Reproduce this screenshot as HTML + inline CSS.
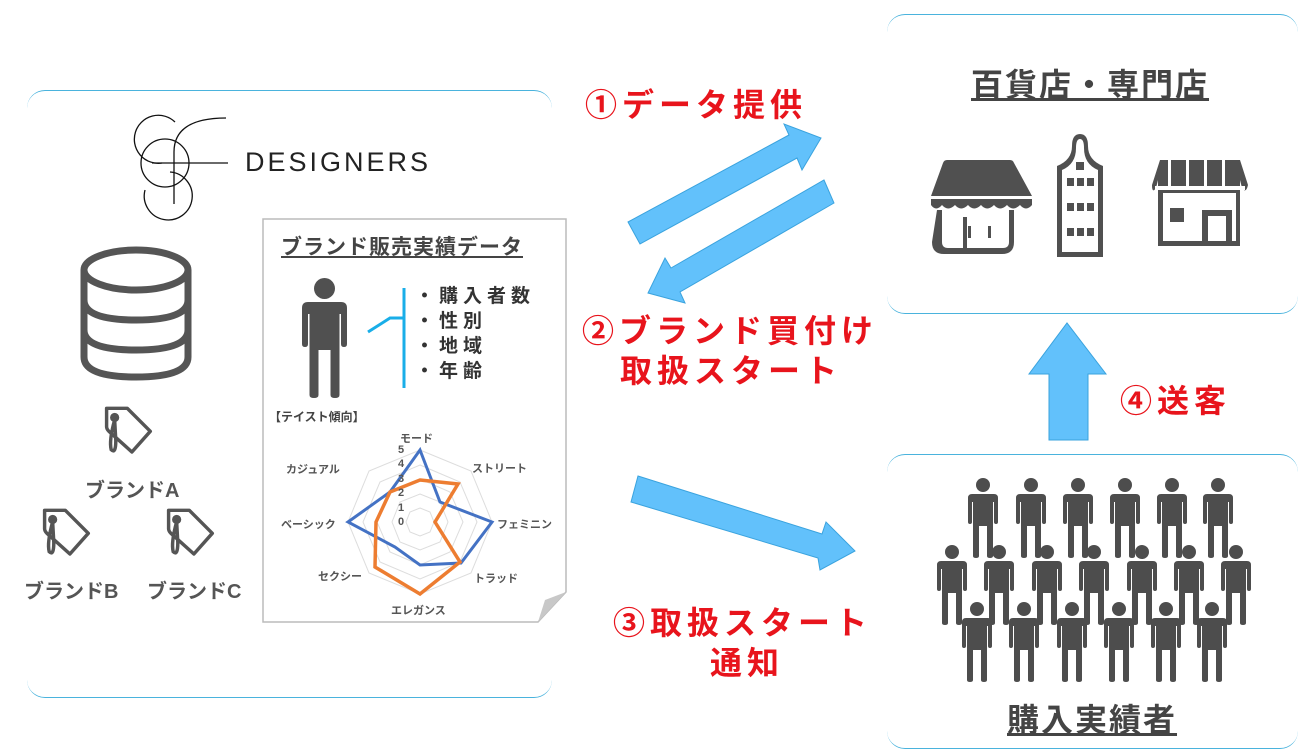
<!DOCTYPE html>
<html><head><meta charset="utf-8"><style>
html,body{margin:0;padding:0;background:#fff;}
body{width:1315px;height:755px;position:relative;overflow:hidden;font-family:"Liberation Sans","Noto Sans CJK JP",sans-serif;}
.box{position:absolute;border-top:1.5px solid #4ab3dd;border-bottom:1.5px solid #4ab3dd;border-radius:18px;box-sizing:border-box;}
.t{position:absolute;white-space:nowrap;}
.red{color:#e8141c;font-weight:bold;font-size:32px;letter-spacing:5px;}
</style></head><body>
<div class="box" style="left:27px;top:90px;width:525px;height:608px"></div>
<div class="box" style="left:887px;top:14px;width:411px;height:300px"></div>
<div class="box" style="left:887px;top:454px;width:411px;height:295px"></div>

<svg width="1315" height="755" style="position:absolute;left:0;top:0">
<defs>
<g id="p"><circle cx="15" cy="7" r="7"/><path d="M4 16 H26 Q30 16 30 20 V44 Q30 46 28 46 Q26 46 26 44 V24 H25 V78 Q25 80 22 80 Q19 80 19 78 V48 H11 V78 Q11 80 8 80 Q5 80 5 78 V24 H4 V44 Q4 46 2 46 Q0 46 0 44 V20 Q0 16 4 16Z"/></g>
<g id="tag" fill="none" stroke="#555" stroke-width="3"><path d="M4 2 H22 L42 22 L26 40 L6 22 Q4 20 4 18Z" stroke-linejoin="round"/><circle cx="11" cy="10" r="2.5" fill="#555"/><path d="M11 12 Q6 30 8 38 Q12 42 12 30 L11 12"/></g>
</defs>
<!-- logo -->
<g fill="none" stroke="#111" stroke-width="1.3">
<path d="M175 122 A24 24 0 1 0 162 163"/><circle cx="165" cy="163" r="24"/><path d="M145 190 A24 24 0 1 0 170 172"/>
<path d="M174 204 V152 Q174 118 226 118"/><line x1="152" y1="163" x2="228" y2="163"/>
</g>
<text x="245" y="171" font-family="Liberation Sans" font-size="27" letter-spacing="3" fill="#222">DESIGNERS</text>
<!-- database -->
<g fill="none" stroke="#555" stroke-width="7">
<ellipse cx="136" cy="270" rx="52" ry="20"/>
<path d="M84 270 V357 Q84 377 136 377 Q188 377 188 357 V270"/>
<path d="M84 300 Q84 320 136 320 Q188 320 188 300"/>
<path d="M84 330 Q84 350 136 350 Q188 350 188 330"/>
</g>
<g transform="translate(102,406) scale(1.15)"><use href="#tag"/></g>
<g transform="translate(40,508) scale(1.15)"><use href="#tag"/></g>
<g transform="translate(164,508) scale(1.15)"><use href="#tag"/></g>
<!-- stores -->
<g fill="#505050" fill-rule="evenodd">
<path d="M947 160 H1010 Q1013 160 1014 163 L1032 196 H931 L943 163 Q944 160 947 160Z"/>
<path d="M931 199 H1032 V205 Q1026 212 1020 205 Q1013 212 1007 205 Q1000 212 994 205 Q987 212 981 205 Q974 212 968 205 Q961 212 955 205 Q948 212 942 205 Q936 212 931 205Z"/>
<path d="M937 210 h5 v32 q0 6 6 6 h15 v-31 h4 v31 h36 q6 0 6 -6 v-32 h5 v32 q0 12 -12 12 h-58 q-12 0 -12 -12z"/>
<rect x="968" y="226" width="3" height="12"/><rect x="988" y="226" width="3" height="12"/>
<path d="M1057 257 V166 Q1072 160 1072 146 Q1072 134 1080 134 Q1088 134 1088 146 Q1088 160 1103 166 V257Z M1062 252 H1098 V170 Q1084 164 1084 148 Q1084 139 1080 139 Q1076 139 1076 148 Q1076 164 1062 170Z"/>
<rect x="1076" y="162" width="8" height="8"/>
<rect x="1067" y="178" width="7" height="8"/><rect x="1077" y="178" width="7" height="8"/><rect x="1087" y="178" width="7" height="8"/>
<rect x="1067" y="203" width="7" height="8"/><rect x="1077" y="203" width="7" height="8"/><rect x="1087" y="203" width="7" height="8"/>
<rect x="1067" y="228" width="7" height="8"/><rect x="1077" y="228" width="7" height="8"/><rect x="1087" y="228" width="7" height="8"/>
<path d="M1160 160 H1240 L1248 185 Q1246 194 1242 188 L1240 180 V246 H1158 V180 L1156 188 Q1152 194 1152 185Z M1163 193 V241 H1236 V193Z"/>
<rect x="1170" y="208" width="14" height="14"/>
<path d="M1202 210 H1232 V243 H1226 V216 H1208 V243 H1202Z"/>
</g>
<g fill="#fff"><rect x="1168" y="160" width="3" height="26"/><rect x="1186" y="160" width="3" height="26"/><rect x="1204" y="160" width="3" height="26"/><rect x="1222" y="160" width="3" height="26"/><rect x="1155" y="186" width="90" height="4"/></g>
<!-- arrows -->
<g fill="#62c1fb" stroke="#3aa3de" stroke-width="1">
<polygon points="628,222 789,135 784,124 821,138 802,170 797,158 640,244"/>
<polygon points="834,203 680,292 685,303 648,293 665,258 671,268 824,180"/>
<polygon points="638,476 822,534 826,522 855,551 820,570 818,558 631,502"/>
<polygon points="1049,440 1088,440 1088,374 1106,374 1067,323 1029,374 1049,374"/>
</g>
<!-- people -->
<g fill="#4d4d4d">
<use href="#p" x="968" y="478"/><use href="#p" x="1016" y="478"/><use href="#p" x="1063" y="478"/><use href="#p" x="1110" y="478"/><use href="#p" x="1157" y="478"/><use href="#p" x="1203" y="478"/>
<use href="#p" x="937" y="545"/><use href="#p" x="984" y="545"/><use href="#p" x="1032" y="545"/><use href="#p" x="1079" y="545"/><use href="#p" x="1127" y="545"/><use href="#p" x="1174" y="545"/><use href="#p" x="1221" y="545"/>
<use href="#p" x="962" y="602"/><use href="#p" x="1009" y="602"/><use href="#p" x="1057" y="602"/><use href="#p" x="1104" y="602"/><use href="#p" x="1151" y="602"/><use href="#p" x="1197" y="602"/>
</g>
<!-- document -->
<path d="M263 219 H566 V592 L538 622 H263Z" fill="#fff" stroke="#bbb" stroke-width="1.5"/>
<path d="M538 622 L545 600 L566 592Z" fill="#c8c8c8"/>
<g transform="translate(302,278) scale(1.5)" fill="#505050"><use href="#p"/></g>
<g stroke="#19aee8" stroke-width="3" fill="none"><line x1="404" y1="288" x2="404" y2="388"/><path d="M368 332 L390 318 H404"/></g>
<!-- radar -->
<g transform="translate(420,522)" fill="none">
<g stroke="#ddd" stroke-width="1">
<polygon points="0,-14 10,-10 14,0 10,10 0,14 -10,10 -14,0 -10,-10"/>
<polygon points="0,-28 20,-20 28,0 20,20 0,28 -20,20 -28,0 -20,-20"/>
<polygon points="0,-43 30,-30 43,0 30,30 0,43 -30,30 -43,0 -30,-30"/>
<polygon points="0,-57 40,-40 57,0 40,40 0,57 -40,40 -57,0 -40,-40"/>
<polygon points="0,-72 51,-51 72,0 51,51 0,72 -51,51 -72,0 -51,-51"/>
</g>
<polygon points="0,-72 20,-20 72,0 41,41 0,43 -25,25 -72,0 -30,-30" stroke="#4472c4" stroke-width="3"/>
<polygon points="0,-42 38,-38 15,0 40,40 0,72 -45,45 -44,0 -30,-30" stroke="#ed7d31" stroke-width="3.5"/>
</g>
</svg>

<div class="t" style="left:281px;top:231px;font-size:21px;font-weight:bold;color:#444;text-decoration:underline;letter-spacing:1px">ブランド販売実績データ</div>
<div class="t" style="left:415px;top:284px;font-size:19px;font-weight:bold;color:#333;letter-spacing:5px;line-height:25px">・購入者数<br>・性別<br>・地域<br>・年齢</div>
<div class="t" style="left:269px;top:408px;font-size:12px;font-weight:bold;color:#444">【テイスト傾向】</div>
<div class="t" style="left:400px;top:430px;font-size:11px;font-weight:bold;color:#555">モード</div>
<div class="t" style="left:472px;top:460px;font-size:11px;font-weight:bold;color:#555">ストリート</div>
<div class="t" style="left:497px;top:516px;font-size:11px;font-weight:bold;color:#555">フェミニン</div>
<div class="t" style="left:474px;top:570px;font-size:11px;font-weight:bold;color:#555">トラッド</div>
<div class="t" style="left:391px;top:602px;font-size:11px;font-weight:bold;color:#555">エレガンス</div>
<div class="t" style="left:318px;top:568px;font-size:11px;font-weight:bold;color:#555">セクシー</div>
<div class="t" style="left:281px;top:516px;font-size:11px;font-weight:bold;color:#555">ベーシック</div>
<div class="t" style="left:286px;top:461px;font-size:11px;font-weight:bold;color:#555">カジュアル</div>
<div class="t" style="left:398px;top:443px;font-size:11px;font-weight:bold;color:#555;line-height:14.4px">5<br>4<br>3<br>2<br>1<br>0</div>

<div class="t" style="left:85px;top:474px;font-size:20px;font-weight:bold;color:#555">ブランドA</div>
<div class="t" style="left:24px;top:575px;font-size:20px;font-weight:bold;color:#555">ブランドB</div>
<div class="t" style="left:147px;top:575px;font-size:20px;font-weight:bold;color:#555">ブランドC</div>

<div class="t red" style="left:585px;top:80px">①データ提供</div>
<div class="t red" style="left:582px;top:306px">②ブランド買付け</div>
<div class="t red" style="left:620px;top:346px">取扱スタート</div>
<div class="t red" style="left:613px;top:598px">③取扱スタート</div>
<div class="t red" style="left:710px;top:638px">通知</div>
<div class="t red" style="left:1120px;top:376px">④送客</div>

<div class="t" style="left:971px;top:60px;font-size:32px;font-weight:bold;color:#444;text-decoration:underline;letter-spacing:2px">百貨店・専門店</div>
<div class="t" style="left:1007px;top:695px;font-size:32px;font-weight:bold;color:#444;text-decoration:underline;letter-spacing:2px">購入実績者</div>
</body></html>
